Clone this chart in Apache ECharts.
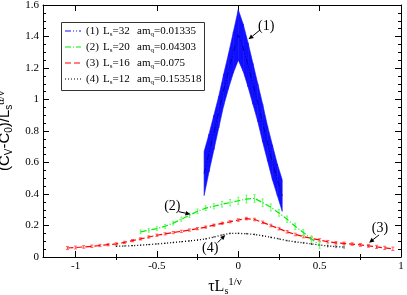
<!DOCTYPE html>
<html><head><meta charset="utf-8">
<script src="https://cdn.jsdelivr.net/npm/echarts@6/dist/echarts.min.js"></script>
<style>html,body{margin:0;padding:0;background:#fff}#c{width:407px;height:295px}</style>
</head><body><div id="c"></div>
<script>
// ---- data ----
const blueX   = [-0.21,-0.18,-0.15,-0.12,-0.09,-0.06,-0.03,0.00,0.03,0.06,0.09,0.12,0.15,0.18,0.21,0.24,0.27];
const blueY   = [0.53,0.66,0.79,0.92,1.06,1.18,1.30,1.41,1.33,1.22,1.10,0.98,0.85,0.72,0.60,0.49,0.39];
const blueErr = [0.14,0.12,0.11,0.10,0.10,0.11,0.13,0.16,0.15,0.14,0.13,0.12,0.12,0.11,0.11,0.10,0.10];

const greenX   = [-0.60,-0.55,-0.50,-0.45,-0.40,-0.35,-0.30,-0.25,-0.20,-0.15,-0.10,-0.05,0.00,0.05,0.10,0.15,0.20,0.25,0.30,0.35,0.40,0.45,0.50];
const greenY   = [0.160,0.170,0.180,0.195,0.215,0.240,0.265,0.290,0.310,0.322,0.335,0.345,0.357,0.368,0.372,0.345,0.315,0.280,0.240,0.195,0.155,0.115,0.075];
const greenErr = [0.012,0.012,0.012,0.012,0.012,0.013,0.014,0.015,0.015,0.016,0.018,0.020,0.022,0.025,0.025,0.024,0.022,0.021,0.020,0.020,0.020,0.020,0.020];

const redX   = [-1.05,-1.00,-0.95,-0.90,-0.85,-0.80,-0.75,-0.70,-0.65,-0.60,-0.55,-0.50,-0.45,-0.40,-0.35,-0.30,-0.25,-0.20,-0.15,-0.10,-0.05,0.00,0.05,0.10,0.15,0.20,0.25,0.30,0.35,0.40,0.45,0.50,0.55,0.60,0.65,0.70,0.75,0.80,0.85,0.90,0.95];
const redY   = [0.057,0.060,0.064,0.068,0.073,0.078,0.083,0.093,0.104,0.115,0.127,0.138,0.147,0.155,0.163,0.171,0.180,0.190,0.202,0.214,0.224,0.235,0.244,0.238,0.220,0.200,0.180,0.160,0.143,0.130,0.118,0.108,0.097,0.090,0.087,0.082,0.077,0.071,0.064,0.058,0.052];
const redErr = [0.010,0.009,0.008,0.008,0.007,0.007,0.007,0.007,0.007,0.007,0.007,0.007,0.007,0.007,0.007,0.007,0.007,0.007,0.007,0.007,0.007,0.008,0.008,0.008,0.008,0.008,0.008,0.008,0.008,0.008,0.008,0.008,0.008,0.008,0.008,0.008,0.009,0.009,0.010,0.010,0.011];

const blackX   = [-0.75,-0.70,-0.65,-0.60,-0.55,-0.50,-0.45,-0.40,-0.35,-0.30,-0.25,-0.20,-0.15,-0.10,-0.05,0.00,0.05,0.10,0.15,0.20,0.25,0.30,0.35,0.40,0.45,0.50,0.55,0.60,0.65];
const blackY   = [0.068,0.070,0.072,0.075,0.079,0.083,0.087,0.092,0.097,0.102,0.108,0.115,0.127,0.140,0.150,0.150,0.148,0.143,0.135,0.125,0.115,0.104,0.096,0.090,0.083,0.076,0.070,0.066,0.063];
const blackErr = [0.004,0.004,0.004,0.004,0.004,0.004,0.004,0.004,0.004,0.004,0.004,0.004,0.005,0.005,0.005,0.005,0.005,0.005,0.005,0.005,0.005,0.005,0.006,0.006,0.007,0.008,0.009,0.010,0.011];

const xMajor = [-1,-0.5,0,0.5,1];
const xMinor = [-0.75,-0.25,0.25,0.75];

const legendTags = ['(1)','(2)','(3)','(4)'];
const legendL    = ['32','20','16','12'];
const legendAm   = ['0.01335','0.04303','0.075','0.153518'];

const annoText = ['(1)','(2)','(3)','(4)'];
// annotation anchors in data coordinates: [textX, textY, arrowFromX, arrowFromY, arrowToX, arrowToY]
const annoGeom = [
  [0.172, 1.467, 0.133, 1.441, 0.063, 1.382],
  [-0.405, 0.324, -0.366, 0.288, -0.294, 0.271],
  [0.871, 0.184, 0.865, 0.140, 0.804, 0.091],
  [-0.172, 0.057, -0.127, 0.091, -0.080, 0.140]
];

// ---- styling ----
const SERIF = 'Liberation Serif';
const SANS = 'Liberation Sans';
const BLUE = '#1010ff', GREEN = '#00ee00', RED = '#ff0000', BLACK = '#000000';
const dash1 = [6,2,1,2,1,2], dash2 = [6,2,1,2], dash3 = [6,3], dash4 = [1,2];

const pairs = (xs, ys) => xs.map((x,i)=>[x, ys[i]]);

function errBars(xs, ys, es, color, cap, z) {
  return {
    type:'custom', xAxisIndex:0, yAxisIndex:0, z: z, silent:true,
    data: xs.map((x,i)=>[x, ys[i]-es[i], ys[i]+es[i]]),
    encode:{x:0, y:[1,2]},
    renderItem(params, api){
      const x = api.value(0);
      const lo = api.coord([x, api.value(1)]);
      const hi = api.coord([x, api.value(2)]);
      const ch = [{type:'line', shape:{x1:lo[0],y1:lo[1],x2:hi[0],y2:hi[1]}, style:{stroke:color, lineWidth:1}}];
      if (cap > 0) {
        ch.push({type:'line', shape:{x1:lo[0]-cap,y1:lo[1],x2:lo[0]+cap,y2:lo[1]}, style:{stroke:color, lineWidth:1}});
        ch.push({type:'line', shape:{x1:hi[0]-cap,y1:hi[1],x2:hi[0]+cap,y2:hi[1]}, style:{stroke:color, lineWidth:1}});
      }
      return {type:'group', children: ch};
    }
  };
}

function lineSeries(xs, ys, color, dash, width, z) {
  return {type:'line', xAxisIndex:0, yAxisIndex:0, data: pairs(xs, ys), showSymbol:false, symbol:'none',
    lineStyle:{color:color, type:dash, width:width}, z:z, silent:true, animation:false};
}

// blue band as polygons between consecutive error bars
const bandData = blueX.slice(0,-1).map((x,i)=>[x, blueY[i]-blueErr[i], blueY[i]+blueErr[i], blueX[i+1], blueY[i+1]-blueErr[i+1], blueY[i+1]+blueErr[i+1]]);
const bandSeries = {
  type:'custom', xAxisIndex:0, yAxisIndex:0, z:5, silent:true, data: bandData,
  encode:{x:[0,3], y:[1,2,4,5]},
  renderItem(params, api){
    const a = api.coord([api.value(0), api.value(1)]);
    const b = api.coord([api.value(0), api.value(2)]);
    const c = api.coord([api.value(3), api.value(5)]);
    const d = api.coord([api.value(3), api.value(4)]);
    return {type:'polygon', shape:{points:[a,b,c,d]}, style:{fill:BLUE, stroke:BLUE, lineWidth:0.6}};
  }
};

const annoTextSeries = {
  type:'custom', xAxisIndex:0, yAxisIndex:0, z:20, silent:true,
  data: annoGeom.map(g=>[g[0], g[1]]),
  renderItem(params, api){
    const p = api.coord([api.value(0), api.value(1)]);
    return {type:'text', x:p[0], y:p[1], style:{text:annoText[params.dataIndex], fontFamily:SERIF, fontSize:14, fill:'#000', align:'center', verticalAlign:'middle'}};
  }
};
const annoArrowSeries = {
  type:'custom', xAxisIndex:0, yAxisIndex:0, z:20, silent:true,
  data: annoGeom.map(g=>[g[2], g[3], g[4], g[5]]),
  renderItem(params, api){
    const p = api.coord([api.value(0), api.value(1)]);
    const q = api.coord([api.value(2), api.value(3)]);
    const dx = q[0]-p[0], dy = q[1]-p[1], L = Math.hypot(dx,dy);
    const ux = dx/L, uy = dy/L, h = 5, w = 2.3;
    const bx = q[0]-ux*h, by = q[1]-uy*h;
    return {type:'group', children:[
      {type:'line', shape:{x1:p[0],y1:p[1],x2:bx,y2:by}, style:{stroke:'#000', lineWidth:1}},
      {type:'polygon', shape:{points:[[q[0],q[1]],[bx-uy*w,by+ux*w],[bx+uy*w,by-ux*w]]}, style:{fill:'#000'}}
    ]};
  }
};

const axisCommon = {type:'value', axisLine:{show:false}, splitLine:{show:false}, axisLabel:{show:false}};
const xBase = {min:-1.2, max:1};
const xAxes = [
  Object.assign({}, axisCommon, xBase, {position:'bottom',
    axisLine:{show:true, onZero:false, lineStyle:{color:'#000', width:1}},
    axisTick:{show:true, inside:true, length:6, customValues:xMajor, lineStyle:{color:'#000'}},
    axisLabel:{show:true, customValues:xMajor, fontFamily:SERIF, fontSize:11, color:'#000', margin:4},
    name:'τL{sub|s}{sup|1/ν}', nameLocation:'middle', nameGap:16,
    nameTextStyle:{fontFamily:SERIF, fontSize:16, color:'#000', lineHeight:19, padding:[0,0,0,6],
      rich:{sub:{fontFamily:SERIF, fontSize:10, lineHeight:10, verticalAlign:'bottom', color:'#000'},
            sup:{fontFamily:SERIF, fontSize:11, lineHeight:11, verticalAlign:'top', color:'#000'}}}}),
  Object.assign({}, axisCommon, xBase, {position:'bottom',
    axisTick:{show:true, inside:true, length:3, customValues:xMinor, lineStyle:{color:'#000'}}}),
  Object.assign({}, axisCommon, xBase, {position:'top',
    axisLine:{show:true, onZero:false, lineStyle:{color:'#000', width:1}},
    axisTick:{show:true, inside:true, length:6, customValues:xMajor, lineStyle:{color:'#000'}}}),
  Object.assign({}, axisCommon, xBase, {position:'top',
    axisTick:{show:true, inside:true, length:3, customValues:xMinor, lineStyle:{color:'#000'}}})
];
const yBase = {min:0, max:1.6, interval:0.2};
const yAxes = [
  Object.assign({}, axisCommon, yBase, {position:'left',
    axisLine:{show:true, onZero:false, lineStyle:{color:'#000', width:1}},
    axisTick:{show:true, inside:true, length:6, lineStyle:{color:'#000'}},
    minorTick:{show:true, splitNumber:4, length:3, lineStyle:{color:'#000'}},
    axisLabel:{show:true, fontFamily:SERIF, fontSize:11, color:'#000', margin:4},
    name:'(C{sub|V}-C{sub|0})/L{sub|s}{sup|α/ν}', nameLocation:'middle', nameGap:20, nameRotate:90,
    nameTextStyle:{fontFamily:SANS, fontSize:15, color:'#000', lineHeight:19,
      rich:{sub:{fontFamily:SANS, fontSize:10, lineHeight:10, verticalAlign:'bottom', color:'#000'},
            sup:{fontFamily:SERIF, fontSize:11, lineHeight:11, verticalAlign:'top', color:'#000'}}}}),
  Object.assign({}, axisCommon, yBase, {position:'right',
    axisLine:{show:true, onZero:false, lineStyle:{color:'#000', width:1}},
    axisTick:{show:true, inside:true, length:6, lineStyle:{color:'#000'}},
    minorTick:{show:true, splitNumber:4, length:3, lineStyle:{color:'#000'}}})
];

// legend drawn as graphic
const legendColors = [BLUE, GREEN, RED, BLACK];
const legendDash = [dash1, dash2, dash3, dash4];
const legendEls = [{type:'rect', shape:{x:61.5, y:22.5, width:143, height:68}, style:{fill:'#fff', stroke:'#333', lineWidth:1}, z:30}];
const subRich = {s:{fontFamily:SERIF, fontSize:7, lineHeight:7, verticalAlign:'bottom', fill:'#000'}};
legendTags.forEach((t,i)=>{
  const y = 31 + i*16;
  legendEls.push({type:'line', shape:{x1:65, y1:y, x2:81, y2:y}, style:{stroke:legendColors[i], lineDash:legendDash[i], lineWidth:1.2}, z:31});
  legendEls.push({type:'text', x:86, y:y, style:{text:t, fontFamily:SERIF, fontSize:11, fill:'#000', verticalAlign:'middle'}, z:31});
  legendEls.push({type:'text', x:103, y:y, style:{text:'L{s|s}=' + legendL[i], fontFamily:SERIF, fontSize:11, lineHeight:14, fill:'#000', verticalAlign:'middle', rich:subRich}, z:31});
  legendEls.push({type:'text', x:137, y:y, style:{text:'am{s|q}=' + legendAm[i], fontFamily:SERIF, fontSize:11, lineHeight:14, fill:'#000', verticalAlign:'middle', rich:subRich}, z:31});
});

const chart = echarts.init(document.getElementById('c'), null, {renderer:'canvas'});
chart.setOption({
  animation:false,
  backgroundColor:'#fff',
  grid:{left:43, right:6, top:5, bottom:38, containLabel:false, outerBoundsMode:'none'},
  xAxis: xAxes,
  yAxis: yAxes,
  graphic: legendEls,
  series: [
    errBars(blackX, blackY, blackErr, '#444444', 0, 2),
    lineSeries(blackX, blackY, BLACK, dash4, 1.3, 3),
    errBars(redX, redY, redErr, '#ff6060', 1.5, 2),
    lineSeries(redX, redY, RED, dash3, 1.2, 3),
    errBars(greenX, greenY, greenErr, '#66ff66', 1, 2),
    lineSeries(greenX, greenY, GREEN, dash2, 1.2, 3),
    bandSeries,
    lineSeries(blueX, blueY, '#0000b0', dash1, 1, 6),
    annoArrowSeries,
    annoTextSeries
  ]
});
</script>
</body></html>
